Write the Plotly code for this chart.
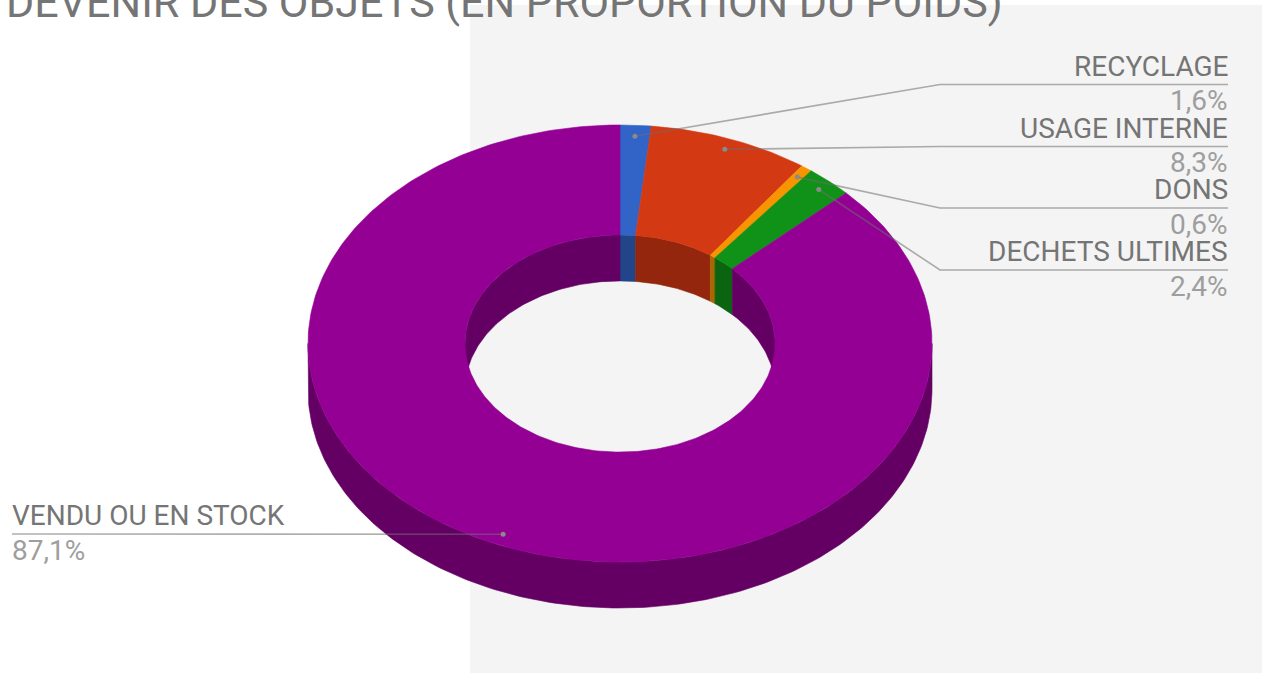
import numpy as np
import plotly.graph_objects as go

# ---- data ----
categories = ["RECYCLAGE", "USAGE INTERNE", "DONS", "DECHETS ULTIMES", "VENDU OU EN STOCK"]
values = [1.6, 8.3, 0.6, 2.4, 87.1]
pct_labels = ["1,6%", "8,3%", "0,6%", "2,4%", "87,1%"]
title_text = "DEVENIR DES OBJETS (EN PROPORTION DU POIDS)"

# ---- style / layout ----
W, H = 1262, 673
top_colors = ["#3263c6", "#d33912", "#f79400", "#109218", "#940094"]
side_colors = ["#224488", "#93260c", "#aa6600", "#0b6410", "#640064"]
CX, CY = 620.0, 343.5
RX, RY = 312.0, 218.5
HOLE = 0.497
DEPTH = 46.0
ANCHOR_F = 0.95
NAME_COLOR = "#757575"
PCT_COLOR = "#9e9e9e"
LINE_COLOR = "rgba(110,110,110,0.55)"
FONT = "Roboto"
label_line_y = [84.5, 146.5, 208.0, 270.0, 534.0]
label_side = ["right", "right", "right", "right", "left"]
RIGHT_X, RIGHT_ELBOW_X = 1228, 940
LEFT_X = 12

fig = go.Figure()

total = sum(values)
bounds = np.concatenate([[0.0], np.cumsum(values) / total * 2 * np.pi])


def ell(t, f=1.0, dy=0.0):
    return CX + RX * f * np.sin(t), CY - RY * f * np.cos(t) + dy


def arc(a, b, n_per_rad=60):
    n = max(3, int(abs(b - a) * n_per_rad))
    return np.linspace(a, b, n)


def poly(x, y, color):
    fig.add_trace(go.Scatter(x=list(x) + [x[0]], y=list(y) + [y[0]], mode="lines",
                             fill="toself", fillcolor=color,
                             line=dict(color=color, width=0.6),
                             hoverinfo="skip", showlegend=False))


def clip(a0, a1, lo, hi):
    s, e = max(a0, lo), min(a1, hi)
    return (s, e) if e > s else None


# inner back walls (visible through the hole)
for i in range(len(values)):
    a0, a1 = bounds[i], bounds[i + 1]
    for lo, hi in [(0, np.pi / 2), (1.5 * np.pi, 2 * np.pi)]:
        c = clip(a0, a1, lo, hi)
        if c:
            t = arc(*c)
            xt, yt = ell(t, HOLE)
            xb, yb = ell(t[::-1], HOLE, DEPTH)
            poly(np.r_[xt, xb], np.r_[yt, yb], side_colors[i])

# outer front walls
for i in range(len(values)):
    a0, a1 = bounds[i], bounds[i + 1]
    c = clip(a0, a1, np.pi / 2, 1.5 * np.pi)
    if c:
        t = arc(*c)
        xt, yt = ell(t)
        xb, yb = ell(t[::-1], 1.0, DEPTH)
        poly(np.r_[xt, xb], np.r_[yt, yb], side_colors[i])

# top faces
for i in range(len(values)):
    t = arc(bounds[i], bounds[i + 1])
    xo, yo = ell(t)
    xi, yi = ell(t[::-1], HOLE)
    poly(np.r_[xo, xi], np.r_[yo, yi], top_colors[i])

# leader lines + labels
annotations = []
for i in range(len(values)):
    mid = (bounds[i] + bounds[i + 1]) / 2
    ax, ay = ell(mid, ANCHOR_F)
    ly = label_line_y[i]
    if label_side[i] == "right":
        lx = [ax, RIGHT_ELBOW_X, RIGHT_X]
        tx, xanchor = RIGHT_X + 2, "right"
    else:
        lx = [ax, LEFT_X]
        tx, xanchor = LEFT_X - 2, "left"
    ly_list = [ay] + [ly] * (len(lx) - 1)
    fig.add_trace(go.Scatter(x=lx, y=ly_list, mode="lines",
                             line=dict(color=LINE_COLOR, width=1.6),
                             hoverinfo="skip", showlegend=False))
    fig.add_trace(go.Scatter(x=[ax], y=[ay], mode="markers",
                             marker=dict(color="#8a8a8a", size=5),
                             hoverinfo="skip", showlegend=False))
    annotations.append(dict(x=tx, y=ly, xref="x", yref="y", text=categories[i],
                            showarrow=False, xanchor=xanchor, yanchor="bottom",
                            font=dict(family=FONT, size=28, color=NAME_COLOR)))
    annotations.append(dict(x=tx, y=ly - 2.5, xref="x", yref="y", text=pct_labels[i],
                            showarrow=False, xanchor=xanchor, yanchor="top",
                            font=dict(family=FONT, size=28, color=PCT_COLOR)))

annotations.append(dict(x=4, y=29, xref="x", yref="y", text=title_text, showarrow=False,
                        xanchor="left", yanchor="bottom",
                        font=dict(family=FONT, size=43, color=NAME_COLOR)))

fig.update_layout(
    width=W, height=H,
    margin=dict(l=0, r=0, t=0, b=0),
    paper_bgcolor="#ffffff", plot_bgcolor="rgba(0,0,0,0)",
    xaxis=dict(range=[0, W], visible=False, fixedrange=True),
    yaxis=dict(range=[H, 0], visible=False, fixedrange=True),
    shapes=[dict(type="rect", xref="x", yref="y", x0=470, x1=W, y0=5, y1=H,
                 fillcolor="#f4f4f4", line=dict(width=0), layer="below")],
    annotations=annotations,
    showlegend=False,
)

fig.write_html("out.html", config={"displayModeBar": False},
               post_script="document.body.style.margin='0';document.body.style.overflow='hidden';")
